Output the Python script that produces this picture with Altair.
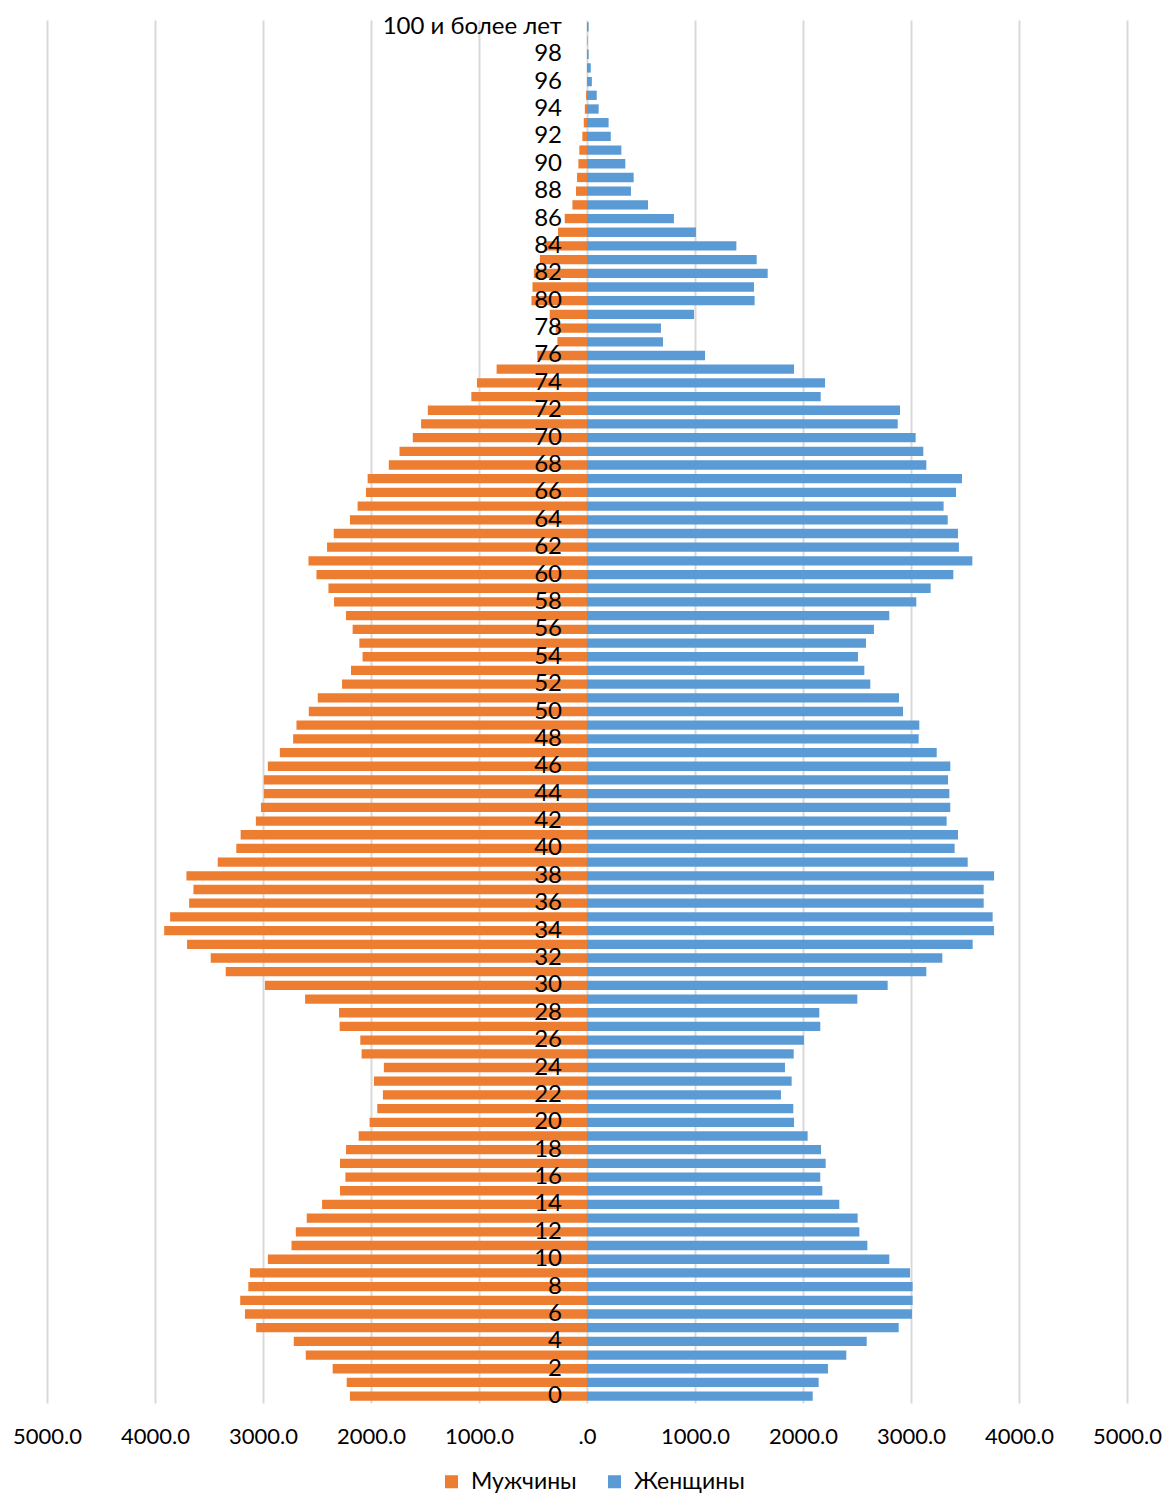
import altair as alt
import pandas as pd

ages = list(range(101))
age_labels = [str(a) for a in range(100)] + ["100 и более лет"]

male = [2195, 2225, 2355, 2604, 2715, 3063, 3167, 3211, 3136, 3121,
        2955, 2736, 2696, 2595, 2453, 2287, 2237, 2287, 2231, 2114,
        2013, 1942, 1890, 1973, 1881, 2087, 2099, 2290, 2296, 2610,
        2982, 3345, 3484, 3703, 3915, 3860, 3684, 3644, 3709, 3419,
        3247, 3207, 3066, 3019, 2992, 2992, 2955, 2844, 2721, 2690,
        2576, 2493, 2268, 2185, 2078, 2108, 2170, 2231, 2342, 2394,
        2505, 2579, 2407, 2345, 2195, 2124, 2047, 2031, 1835, 1736,
        1613, 1536, 1474, 1071, 1019, 837, 460, 274, 290, 345,
        514, 505, 492, 437, 390, 268, 206, 135, 102, 92,
        80, 71, 43, 30, 20, 8, 0, 0, 0, 0, 0]

female = [2090, 2145, 2231, 2401, 2590, 2886, 3009, 3015, 3015, 2991,
          2799, 2596, 2522, 2506, 2336, 2179, 2160, 2210, 2167, 2043,
          1917, 1910, 1796, 1895, 1833, 1914, 2009, 2160, 2151, 2503,
          2784, 3142, 3290, 3571, 3769, 3756, 3673, 3673, 3769, 3525,
          3404, 3435, 3330, 3364, 3355, 3343, 3364, 3238, 3071, 3077,
          2926, 2889, 2623, 2568, 2509, 2583, 2657, 2799, 3049, 3182,
          3392, 3568, 3444, 3435, 3340, 3302, 3417, 3472, 3142, 3114,
          3043, 2877, 2898, 2164, 2204, 1917, 1093, 704, 685, 991,
          1552, 1546, 1673, 1571, 1383, 1009, 805, 565, 407, 432,
          355, 318, 220, 200, 108, 90, 45, 35, 15, 5, 15]

series = ["Мужчины", "Женщины"]
colors = ["#ED7D31", "#5B9BD5"]
x_ticks = [-5000, -4000, -3000, -2000, -1000, 0, 1000, 2000, 3000, 4000, 5000]

rows = []
for a, lab, m, f in zip(ages, age_labels, male, female):
    rows.append({"age": lab, "sex": series[0], "value": -m})
    rows.append({"age": lab, "sex": series[1], "value": f})
df = pd.DataFrame(rows)

label_df = pd.DataFrame({"age": [lab for a, lab in zip(ages, age_labels) if a % 2 == 0]})

order = list(reversed(age_labels))
FONT = "Lato"

y_enc = alt.Y("age:N", sort=order, axis=None,
              scale=alt.Scale(paddingInner=0.32, paddingOuter=0.16))

bars = alt.Chart(df).mark_bar().encode(
    x=alt.X("value:Q",
            scale=alt.Scale(domain=[-5000, 5000], nice=False, zero=False),
            axis=alt.Axis(values=x_ticks, title=None, grid=True,
                          gridColor="#d9d9d9", gridWidth=2,
                          domain=False, ticks=False,
                          labelFlush=False, labelOverlap=False, labelBound=False,
                          labelExpr="datum.value == 0 ? '.0' : format(abs(datum.value), '.1f')",
                          labelFont=FONT, labelFontSize=22, labelColor="#000000",
                          labelPadding=23)),
    y=y_enc,
    color=alt.Color("sex:N", scale=alt.Scale(domain=series, range=colors),
                    sort=series,
                    legend=alt.Legend(title=None, orient="none", direction="horizontal",
                                      legendX=393, legendY=1450,
                                      symbolType="square", symbolSize=170,
                                      symbolStrokeWidth=0,
                                      labelFont=FONT, labelFontSize=23,
                                      labelColor="#000000", columnPadding=26,
                                      labelOffset=8)),
)

labels = alt.Chart(label_df).mark_text(
    align="right", baseline="middle", dx=-25, font=FONT, fontSize=24, color="#000000"
).encode(
    x=alt.datum(0),
    y=y_enc,
    text="age:N",
)

chart = alt.layer(bars, labels).properties(
    width=1080, height=1383,
    autosize=alt.AutoSizeParams(type="none"),
    padding={"left": 39, "top": 12, "right": 35, "bottom": 93},
).configure_view(stroke=None)

chart.save("out.html", embed_options={"renderer": "svg", "actions": False})
